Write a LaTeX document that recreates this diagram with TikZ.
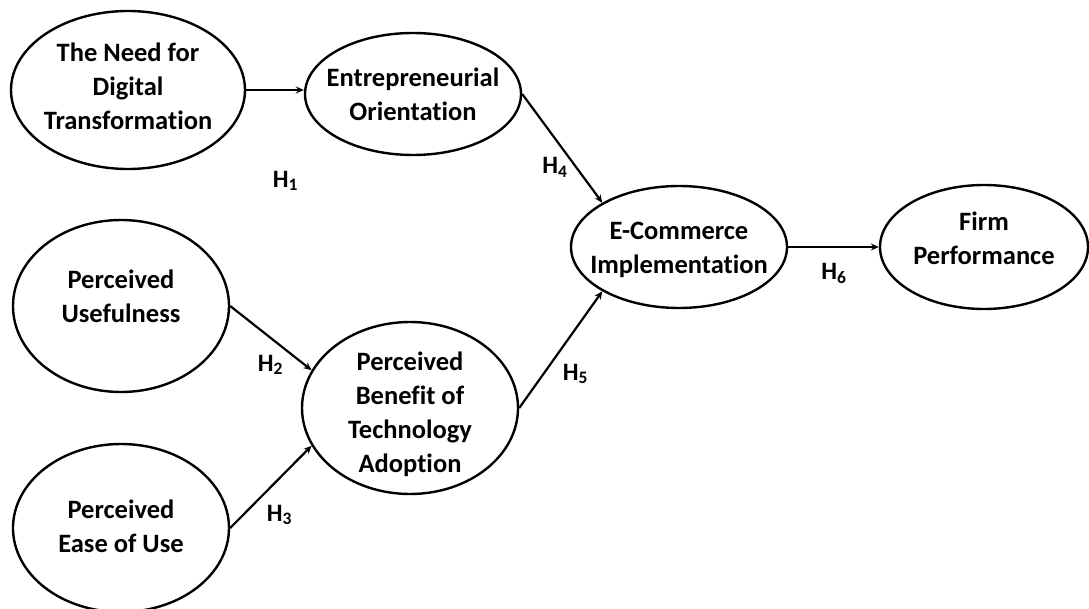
\documentclass[tikz,border=0pt]{standalone}
\usepackage{fontspec}
\setmainfont{Carlito}[Ligatures=NoCommon]
\usetikzlibrary{arrows.meta,shapes.geometric}

\begin{document}
\begin{tikzpicture}
  [x=1pt, y=-1pt,
   every node/.style={font=\fontsize{26.5}{34}\selectfont\bfseries, align=center},
   construct/.style={draw, ellipse, line width=2.4pt, inner sep=0pt},
   caption/.style={inner sep=0pt},
   hyp/.style={font=\fontsize{25}{28}\selectfont\bfseries, inner sep=0pt},
   link/.style={-{Stealth[length=8pt, width=7pt]}, line width=2.2pt}]

  \useasboundingbox (0,0) rectangle (1089,609);

  % constructs
  \node[construct, minimum width=234pt, minimum height=158pt] (need) at (128,90) {};
  \node[construct, minimum width=216pt, minimum height=122pt] (eo) at (413,94) {};
  \node[construct, minimum width=216pt, minimum height=172pt] (pu) at (121,306) {};
  \node[construct, minimum width=216pt, minimum height=168pt] (peu) at (121,528) {};
  \node[construct, minimum width=216pt, minimum height=172pt] (pbta) at (410,408) {};
  \node[construct, minimum width=216pt, minimum height=122pt] (ec) at (679,247) {};
  \node[construct, minimum width=208pt, minimum height=124pt] (fp) at (984,247) {};

  % texts
  \node[caption, yshift=4pt] (need-t) at (need) {The Need for\\Digital\\Transformation};
  \node[caption] (eo-t) at (eo) {Entrepreneurial\\Orientation};
  \node[caption, yshift=10pt] (pu-t) at (pu) {Perceived\\Usefulness};
  \node[caption, yshift=2pt] (peu-t) at (peu) {Perceived\\Ease of Use};
  \node[caption, yshift=-6pt] (pbta-t) at (pbta) {Perceived\\Benefit of\\Technology\\Adoption};
  \node[caption, yshift=-3pt] (ec-t) at (ec) {E-Commerce\\Implementation};
  \node[caption, yshift=9pt] (fp-t) at (fp) {Firm\\Performance};

  % paths
  \draw[link] (need.east) -- (eo.west |- need.east);
  \draw[link] (eo.east) -- (ec.150);
  \draw[link] (pu.east) -- (pbta.159);
  \draw[link] (peu.east) -- (pbta.201);
  \draw[link] (pbta.east) -- (ec.210);
  \draw[link] (ec.east) -- (fp.west);

  % hypotheses
  \node[hyp] (h1) at (285.5,181) {H\textsubscript{1}};
  \node[hyp] (h2) at (270.5,365) {H\textsubscript{2}};
  \node[hyp] (h3) at (279.5,515) {H\textsubscript{3}};
  \node[hyp] (h4) at (555,167.5) {H\textsubscript{4}};
  \node[hyp] (h5) at (575.5,374) {H\textsubscript{5}};
  \node[hyp] (h6) at (834,273.5) {H\textsubscript{6}};
\end{tikzpicture}
\end{document}
